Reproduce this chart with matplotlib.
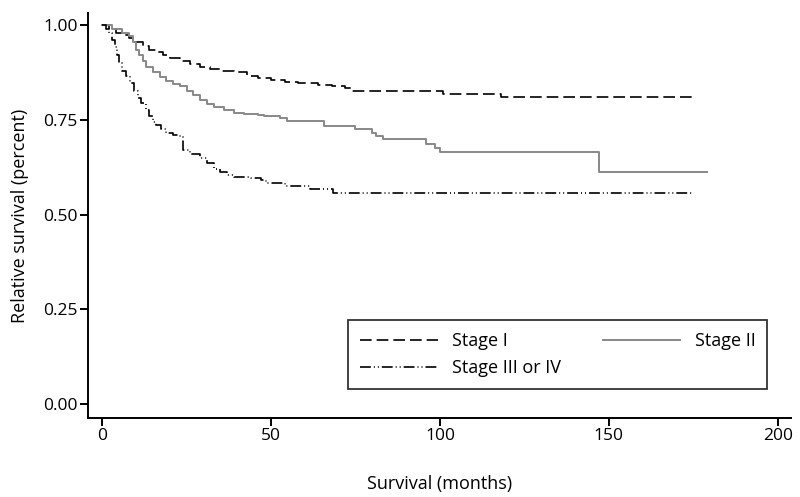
import matplotlib
matplotlib.use("Agg")
import matplotlib.pyplot as plt

plt.rcParams["font.family"] = ["Open Sans", "DejaVu Sans"]

# Kaplan-Meier style step data (months, relative survival)
stage1_t = [0, 2, 4, 6, 8, 10, 12, 14, 16, 18, 20, 23, 26, 29, 32, 35, 39, 43,
            46, 50, 54, 58, 64, 68, 72, 74, 101, 118, 175]
stage1_s = [1.000, 0.990, 0.980, 0.975, 0.965, 0.955, 0.945, 0.935, 0.928, 0.920,
            0.913, 0.905, 0.898, 0.890, 0.885, 0.880, 0.875, 0.866, 0.860, 0.854,
            0.850, 0.846, 0.842, 0.838, 0.834, 0.826, 0.818, 0.810, 0.810]

stage2_t = [0, 3, 6, 8, 9, 10, 11, 12, 13, 15, 17, 19, 21, 23, 25, 27, 29, 31, 33,
            36, 39, 42, 46, 48, 52.7, 54.7, 65.7, 75, 80, 81, 83, 96, 98.5, 100,
            147, 179]
stage2_s = [1.000, 0.990, 0.980, 0.970, 0.955, 0.935, 0.920, 0.905, 0.890, 0.875,
            0.862, 0.852, 0.845, 0.838, 0.826, 0.815, 0.803, 0.792, 0.783, 0.776,
            0.768, 0.765, 0.762, 0.760, 0.754, 0.747, 0.733, 0.726, 0.716, 0.707,
            0.698, 0.686, 0.675, 0.664, 0.612, 0.612]

stage3_t = [0, 1, 2, 3, 3.8, 4.5, 5, 6, 7, 8.3, 9.5, 10.5, 11.5, 13, 14, 15, 16,
            17.5, 19, 21, 23, 24, 26, 29, 31, 33, 35, 37, 39, 44, 47, 48.5, 54,
            61.5, 68.3, 175]
stage3_s = [1.000, 0.990, 0.978, 0.960, 0.942, 0.920, 0.900, 0.880, 0.865, 0.847,
            0.825, 0.808, 0.794, 0.775, 0.760, 0.745, 0.735, 0.725, 0.716, 0.710,
            0.705, 0.670, 0.660, 0.649, 0.635, 0.620, 0.612, 0.604, 0.599, 0.596,
            0.590, 0.583, 0.575, 0.567, 0.557, 0.557]

x_ticks = [0, 50, 100, 150, 200]
y_ticks = [0.0, 0.25, 0.5, 0.75, 1.0]
y_tick_labels = ["0.00", "0.25", "0.50", "0.75", "1.00"]

fig = plt.figure(figsize=(8, 4.97), dpi=100)
ax = fig.add_axes([0.11, 0.159, 0.879, 0.815])

lw = 1.2
l1, = ax.step(stage1_t, stage1_s, where="post", color="black", lw=lw,
              linestyle=(0, (7.0, 3.0)), label="Stage I")
l2, = ax.step(stage2_t, stage2_s, where="post", color="#888888", lw=1.4,
              label="Stage II")
l3, = ax.step(stage3_t, stage3_s, where="post", color="black", lw=lw,
              linestyle=(0, (6.5, 1.8, 0.6, 1.8, 0.6, 1.8)), label="Stage III or IV")

ax.set_xlim(-4.2, 204)
ax.set_ylim(-0.037, 1.032)
ax.set_xticks(x_ticks)
ax.set_yticks(y_ticks)
ax.set_yticklabels(y_tick_labels)

for side in ["top", "right"]:
    ax.spines[side].set_visible(False)
for side in ["left", "bottom"]:
    ax.spines[side].set_linewidth(1.4)
ax.tick_params(axis="both", direction="out", length=5.5, width=1.4, labelsize=12.5, pad=2)

ax.set_xlabel("Survival (months)", fontsize=13, labelpad=22)
ax.set_ylabel("Relative survival (percent)", fontsize=13, labelpad=10)

# legend: row-major look (Stage I, Stage II / Stage III or IV)
leg = ax.legend(handles=[l1, l3, l2], ncol=2, mode="expand", loc="lower left",
                bbox_to_anchor=(0.37, 0.0716, 0.596, 0.165), borderaxespad=0,
                fontsize=13, frameon=True, fancybox=False, handlelength=4.3,
                handletextpad=0.8, borderpad=0.65, labelspacing=0.5, columnspacing=2.5)
leg.get_frame().set_edgecolor("black")
leg.get_frame().set_linewidth(1.3)

fig.savefig("out.png", dpi=100)
